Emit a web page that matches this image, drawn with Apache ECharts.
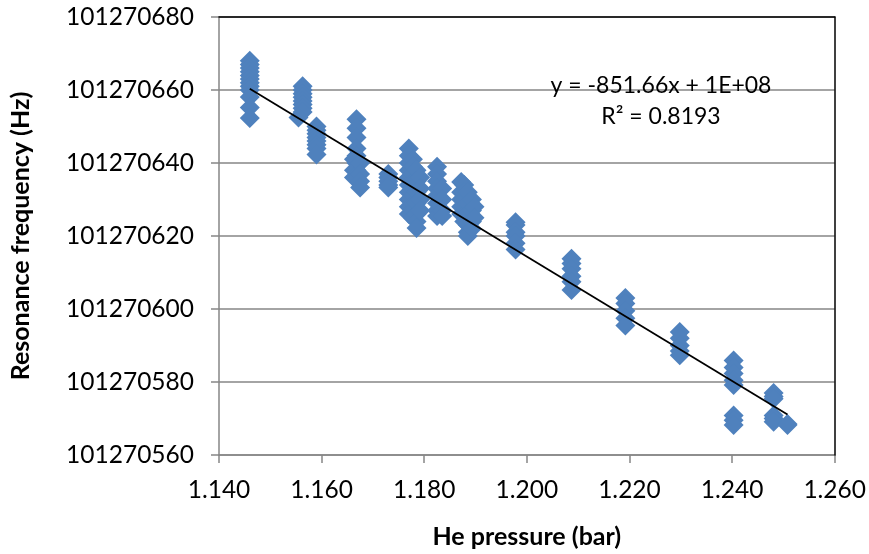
<!DOCTYPE html>
<html>
<head>
<meta charset="utf-8">
<script src="https://cdn.jsdelivr.net/npm/echarts@6/dist/echarts.min.js"></script>
<style>
  html, body { margin: 0; padding: 0; background: #fff; }
  #chart { width: 869px; height: 554px; }
</style>
</head>
<body>
<div id="chart"></div>
<script>
// Helium pressure (bar) of each measurement
const pressure = [
  1.146, 1.146, 1.146, 1.146, 1.146, 1.146, 1.146, 1.146, 1.146, 1.146, 1.146, 1.146,
  1.1563, 1.1563, 1.1563, 1.1563, 1.1563, 1.1563, 1.1563, 1.1563, 1.1555,
  1.159, 1.159, 1.159, 1.159, 1.159, 1.159, 1.159, 1.159,
  1.1668, 1.1668, 1.1668, 1.1668, 1.1668, 1.1668, 1.1668,
  1.1663, 1.1663, 1.1663, 1.1675, 1.1675, 1.1675, 1.1675,
  1.173, 1.173, 1.173, 1.173, 1.173,
  1.177, 1.177, 1.177, 1.177, 1.177, 1.177, 1.177, 1.177, 1.177, 1.177,
  1.1778, 1.1778, 1.1778, 1.1778, 1.1778, 1.1778, 1.1778, 1.1778, 1.1778,
  1.1785, 1.1785, 1.1785, 1.1785, 1.1785, 1.1785, 1.1785,
  1.1792, 1.1792, 1.1792, 1.1792,
  1.1825, 1.1825, 1.1825, 1.1825, 1.1825, 1.1825, 1.1825, 1.1825,
  1.1835, 1.1835, 1.1835, 1.1835,
  1.1872, 1.1872, 1.1872, 1.1872, 1.1872,
  1.1878, 1.1878, 1.1878, 1.1878, 1.1878, 1.1878,
  1.1885, 1.1885, 1.1885, 1.1885, 1.1885, 1.1885,
  1.1893, 1.1893, 1.1893, 1.1893,
  1.1898, 1.1898,
  1.1978, 1.1978, 1.1978, 1.1978, 1.1978, 1.1978,
  1.2087, 1.2087, 1.2087, 1.2087, 1.2087, 1.2087,
  1.2192, 1.2192, 1.2192, 1.2192, 1.2192,
  1.2298, 1.2298, 1.2298, 1.2298, 1.2298,
  1.2403, 1.2403, 1.2403, 1.2403, 1.2403, 1.2403, 1.2403, 1.2403,
  1.2481, 1.2481, 1.2481, 1.2481, 1.2481, 1.2481,
  1.2508, 1.2508
];

// Resonance frequency (Hz) of each measurement
const frequency = [
  101270668, 101270667, 101270666, 101270665, 101270664, 101270663, 101270662, 101270661, 101270660, 101270658.1, 101270655.2, 101270652.3,
  101270661, 101270660, 101270659, 101270658, 101270657, 101270656, 101270655, 101270654, 101270652.5,
  101270650, 101270649, 101270648, 101270647, 101270646, 101270645, 101270644, 101270642.3,
  101270652, 101270649.5, 101270647, 101270644, 101270642, 101270640, 101270638,
  101270641, 101270638, 101270636, 101270640, 101270637, 101270635, 101270633.3,
  101270637, 101270636, 101270635, 101270634, 101270633.3,
  101270644, 101270642, 101270640, 101270638, 101270636, 101270634, 101270632, 101270630, 101270628, 101270626,
  101270641, 101270639, 101270637, 101270635, 101270633, 101270631, 101270629, 101270627, 101270625,
  101270638, 101270635, 101270632, 101270629, 101270626, 101270624, 101270622.2,
  101270636, 101270633, 101270630, 101270627,
  101270639, 101270637, 101270635, 101270633, 101270631, 101270629, 101270627, 101270625.5,
  101270633, 101270630, 101270627, 101270625.5,
  101270634.8, 101270632, 101270630, 101270628, 101270626,
  101270634, 101270632, 101270630, 101270628, 101270626, 101270624,
  101270632, 101270629, 101270626, 101270623, 101270621, 101270620,
  101270630, 101270627, 101270624, 101270622,
  101270628, 101270625,
  101270623.8, 101270623, 101270621, 101270620, 101270618, 101270616.3,
  101270613.8, 101270612.5, 101270611, 101270609, 101270607.5, 101270605.2,
  101270603, 101270601.5, 101270599.5, 101270597.5, 101270595.5,
  101270593.7, 101270592, 101270590, 101270588.5, 101270587.3,
  101270585.9, 101270584, 101270582.3, 101270580.5, 101270579.2, 101270570.8, 101270569.5, 101270568.2,
  101270577, 101270576, 101270575.4, 101270570.8, 101270570, 101270569.1,
  101270568.5, 101270568.2
];

// Linear trendline coefficients: y = slope * x + intercept
const slope = -851.66;
const intercept = 101271636.35;

// Axis ranges and tick steps
const xMin = 1.14, xMax = 1.26, xStep = 0.02;
const yMin = 101270560, yMax = 101270680, yStep = 20;

const equationText = 'y = -851.66x + 1E+08';
const rSquaredText = 'R² = 0.8193';

const points = pressure.map((p, i) => [p, frequency[i]]);
const pMin = Math.min(...pressure);
const pMax = Math.max(...pressure);
const trend = [[pMin, slope * pMin + intercept], [pMax, slope * pMax + intercept]];

const FONT = 'Lato, "Liberation Sans", sans-serif';
const GRAY = '#868686';

// Plain black frame line used on the top and right edges of the plot area
const frameAxis = {
  type: 'value',
  axisLine: { show: true, onZero: false, lineStyle: { color: '#000000', width: 1.5 } },
  axisTick: { show: false },
  axisLabel: { show: false },
  splitLine: { show: false },
  z: 5
};

const chart = echarts.init(document.getElementById('chart'), null, { renderer: 'canvas' });
chart.setOption({
  animation: false,
  backgroundColor: '#ffffff',
  grid: { left: 208, right: 34, top: 17, bottom: 91, show: false },
  xAxis: [
    {
      type: 'value',
      min: xMin, max: xMax, interval: xStep,
      name: 'He pressure (bar)',
      nameLocation: 'middle',
      nameGap: 69,
      nameTextStyle: { fontFamily: FONT, fontWeight: 'bold', fontSize: 25, color: '#000' },
      axisLine: { show: true, onZero: false, lineStyle: { color: GRAY, width: 1.5 } },
      axisTick: { show: true, length: 8, lineStyle: { color: GRAY, width: 1.5 } },
      axisLabel: {
        fontFamily: FONT, fontSize: 24.5, color: '#000', margin: 23,
        formatter: v => v.toFixed(3)
      },
      splitLine: { show: false },
      z: 4
    },
    Object.assign({ position: 'top', min: xMin, max: xMax }, frameAxis)
  ],
  yAxis: [
    {
      type: 'value',
      min: yMin, max: yMax, interval: yStep,
      name: 'Resonance frequency (Hz)',
      nameLocation: 'middle',
      nameGap: 186,
      nameTextStyle: { fontFamily: FONT, fontWeight: 'bold', fontSize: 25, color: '#000' },
      axisLine: { show: true, onZero: false, lineStyle: { color: GRAY, width: 1.5 } },
      axisTick: { show: true, length: 8, lineStyle: { color: GRAY, width: 1.5 } },
      axisLabel: {
        fontFamily: FONT, fontSize: 24.5, color: '#000', margin: 25,
        formatter: v => String(Math.round(v))
      },
      splitLine: { show: true, lineStyle: { color: GRAY, width: 1.5 } },
      z: 1
    },
    Object.assign({ position: 'right', min: yMin, max: yMax }, frameAxis)
  ],
  series: [
    {
      type: 'scatter',
      data: points,
      symbol: 'diamond',
      symbolSize: 20,
      itemStyle: { color: '#4F81BD', opacity: 1 },
      z: 2
    },
    {
      type: 'line',
      data: trend,
      symbol: 'none',
      lineStyle: { color: '#000000', width: 1.8 },
      z: 3
    }
  ],
  graphic: [
    {
      type: 'text',
      style: { text: equationText, x: 661, y: 86, align: 'center', verticalAlign: 'middle',
               font: '23px ' + FONT, fill: '#000' },
      z: 10
    },
    {
      type: 'text',
      style: { text: rSquaredText, x: 661, y: 117, align: 'center', verticalAlign: 'middle',
               font: '23px ' + FONT, fill: '#000' },
      z: 10
    }
  ]
});
</script>
</body>
</html>
